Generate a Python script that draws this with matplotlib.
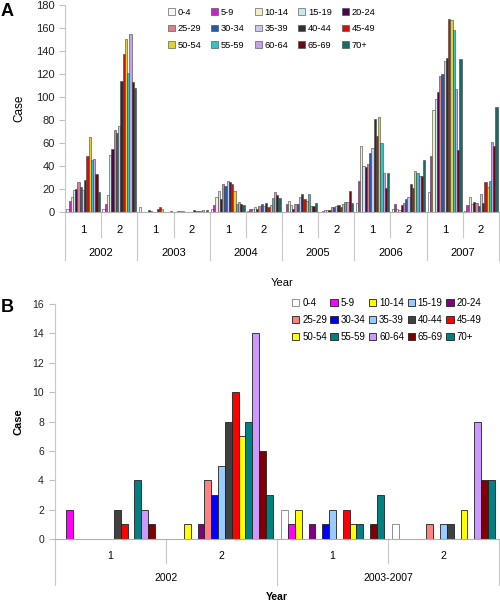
import numpy as np
import matplotlib.pyplot as plt
from matplotlib.transforms import offset_copy

plt.rcParams['font.family'] = ['Liberation Sans', 'DejaVu Sans']

ages = ['0-4', '5-9', '10-14', '15-19', '20-24', '25-29', '30-34', '35-39',
        '40-44', '45-49', '50-54', '55-59', '60-64', '65-69', '70+']

# panel A: half-year periods 2002-2007
halves_a = ['1', '2'] * 6
years_a = ['2002', '2003', '2004', '2005', '2006', '2007']
cases_a = [
    [3, 10, 13, 19, 20, 26, 22, 19, 28, 49, 65, 45, 46, 33, 17],
    [3, 7, 15, 50, 55, 71, 69, 75, 114, 137, 150, 121, 155, 113, 108],
    [4, 0, 0, 0, 2, 1, 0, 0, 3, 4, 3, 0, 0, 0, 1],
    [0, 1, 1, 1, 0, 0, 0, 0, 2, 1, 1, 1, 2, 0, 2],
    [3, 6, 13, 18, 11, 24, 23, 27, 26, 24, 18, 7, 9, 7, 6],
    [1, 3, 3, 4, 3, 5, 7, 5, 8, 4, 6, 12, 17, 15, 12],
    [0, 7, 10, 6, 3, 7, 7, 13, 16, 11, 10, 16, 5, 5, 8],
    [0, 1, 2, 2, 2, 4, 4, 5, 6, 4, 7, 9, 9, 18, 8],
    [8, 27, 57, 40, 39, 42, 51, 56, 81, 66, 83, 60, 34, 21, 34],
    [3, 7, 3, 2, 6, 8, 11, 13, 24, 21, 36, 34, 31, 31, 45],
    [17, 49, 89, 98, 104, 118, 120, 131, 134, 168, 167, 158, 107, 54, 133],
    [1, 6, 13, 7, 9, 8, 5, 16, 8, 26, 22, 27, 61, 57, 91],
]

# panel B
halves_b = ['1', '2', '1', '2']
years_b = ['2002', '2003-2007']
cases_b = [
    [0, 2, 0, 0, 0, 0, 0, 0, 2, 1, 0, 4, 2, 1, 0],
    [0, 0, 1, 0, 1, 4, 3, 5, 8, 10, 7, 8, 14, 6, 3],
    [2, 1, 2, 0, 1, 0, 1, 2, 0, 2, 1, 1, 0, 1, 3],
    [1, 0, 0, 0, 0, 1, 0, 1, 1, 0, 2, 0, 8, 4, 4],
]

colors_a = ['#f6f6f6', '#cc22cc', '#f2efc4', '#c8eaee', '#4a0a4a', '#d48484',
            '#2858a8', '#cacaee', '#303030', '#cc1010', '#e0d030', '#30c4c4',
            '#c8a0e8', '#6a0a0a', '#1a6a6a']
colors_b = ['#ffffff', '#ff00ff', '#ffff00', '#99ccff', '#800080', '#ff8080',
            '#0000ff', '#99ccff', '#404040', '#ff0000', '#ffff00', '#008080',
            '#cc99ff', '#800000', '#008080']

W, H = 500, 601
fig = plt.figure(figsize=(5, 6.01), dpi=100)


def pos(l, r, t, b):
    return [l / W, 1 - b / H, (r - l) / W, (b - t) / H]


def draw(ax, data, colors, edge, lw, width):
    data = np.array(data)
    n = data.shape[1]
    x = np.arange(data.shape[0])
    w = width / n
    for i in range(n):
        ec = '#808080' if colors[i] == '#ffffff' else edge
        ax.bar(x + (i - (n - 1) / 2) * w, data[:, i], width=w, color=colors[i],
               edgecolor=ec, linewidth=lw, label=ages[i])
    ax.set_xlim(-0.5, data.shape[0] - 0.5)
    ax.set_xticks([])
    for s in ['top', 'right']:
        ax.spines[s].set_visible(False)
    ax.spines['left'].set_color('#c8c8c8')
    ax.spines['bottom'].set_color('#b0b0b0')
    ax.tick_params(axis='y', colors='#c0c0c0', labelcolor='#222222', length=4)


def xgroups(ax, h_px, halves, years, d1, d2, s1, s2, fs):
    n = len(halves)
    tr = ax.get_xaxis_transform()
    for i, lab in enumerate(halves):
        ax.text(i, 0, lab, transform=offset_copy(tr, fig=fig, y=-d1, units='dots'),
                ha='center', va='center', fontsize=fs)
    for j, lab in enumerate(years):
        ax.text(2 * j + 0.5, 0, lab, transform=offset_copy(tr, fig=fig, y=-d2, units='dots'),
                ha='center', va='center', fontsize=fs)
    for k in range(n + 1):
        L = s2 if k % 2 == 0 else s1
        ax.plot([k - 0.5, k - 0.5], [0, -L / h_px], transform=tr, color='#c8c8c8',
                lw=0.8, clip_on=False)


def legend(ax, anchor, fs, cs, ls):
    h, l = ax.get_legend_handles_labels()
    order = [r * 5 + c for c in range(5) for r in range(3)]
    ax.legend([h[k] for k in order], [l[k] for k in order], ncol=5, frameon=False,
              loc='upper left', bbox_to_anchor=anchor, bbox_transform=fig.transFigure,
              fontsize=fs, handlelength=0.75, handleheight=0.75, handletextpad=0.3,
              columnspacing=cs, labelspacing=ls, borderaxespad=0, borderpad=0)


# ---- panel A
axA = fig.add_axes(pos(65, 499, 5, 212))
draw(axA, cases_a, colors_a, '#404040', 0.4, 0.93)
axA.set_ylim(0, 180)
axA.set_yticks(range(0, 181, 20))
axA.tick_params(axis='y', labelsize=8)
axA.set_ylabel('Case', fontsize=8.5)
axA.yaxis.set_label_coords(-0.092, 0.5)
xgroups(axA, 207, halves_a, years_a, 18, 41, 25, 48, 8)
axA.text(0.5, 0, 'Year', transform=offset_copy(axA.transAxes, fig=fig, y=-71, units='dots'),
         ha='center', va='center', fontsize=8)
legend(axA, (168 / W, 1 - 8 / H), 6.7, 1.05, 0.78)
fig.text(0.002, 1 - 12 / H, 'A', fontsize=13, weight='bold', va='center')

# ---- panel B
axB = fig.add_axes(pos(55, 499, 304, 539))
draw(axB, cases_b, colors_b, '#202020', 0.6, 0.923)
axB.set_ylim(0, 16)
axB.set_yticks(range(0, 17, 2))
axB.tick_params(axis='y', labelsize=7.5, pad=4)
axB.set_ylabel('Case', fontsize=8, weight='bold')
axB.yaxis.set_label_coords(-0.07, 0.5)
xgroups(axB, 235, halves_b, years_b, 17, 39, 24, 46, 7.5)
axB.text(0.5, 0, 'Year', transform=offset_copy(axB.transAxes, fig=fig, y=-58, units='dots'),
         ha='center', va='center', fontsize=7.5, weight='bold')
legend(axB, (292 / W, 1 - 298 / H), 7, 0.35, 0.7)
fig.text(0.002, 1 - 308 / H, 'B', fontsize=13, weight='bold', va='center')

fig.savefig('out.png', dpi=100)
